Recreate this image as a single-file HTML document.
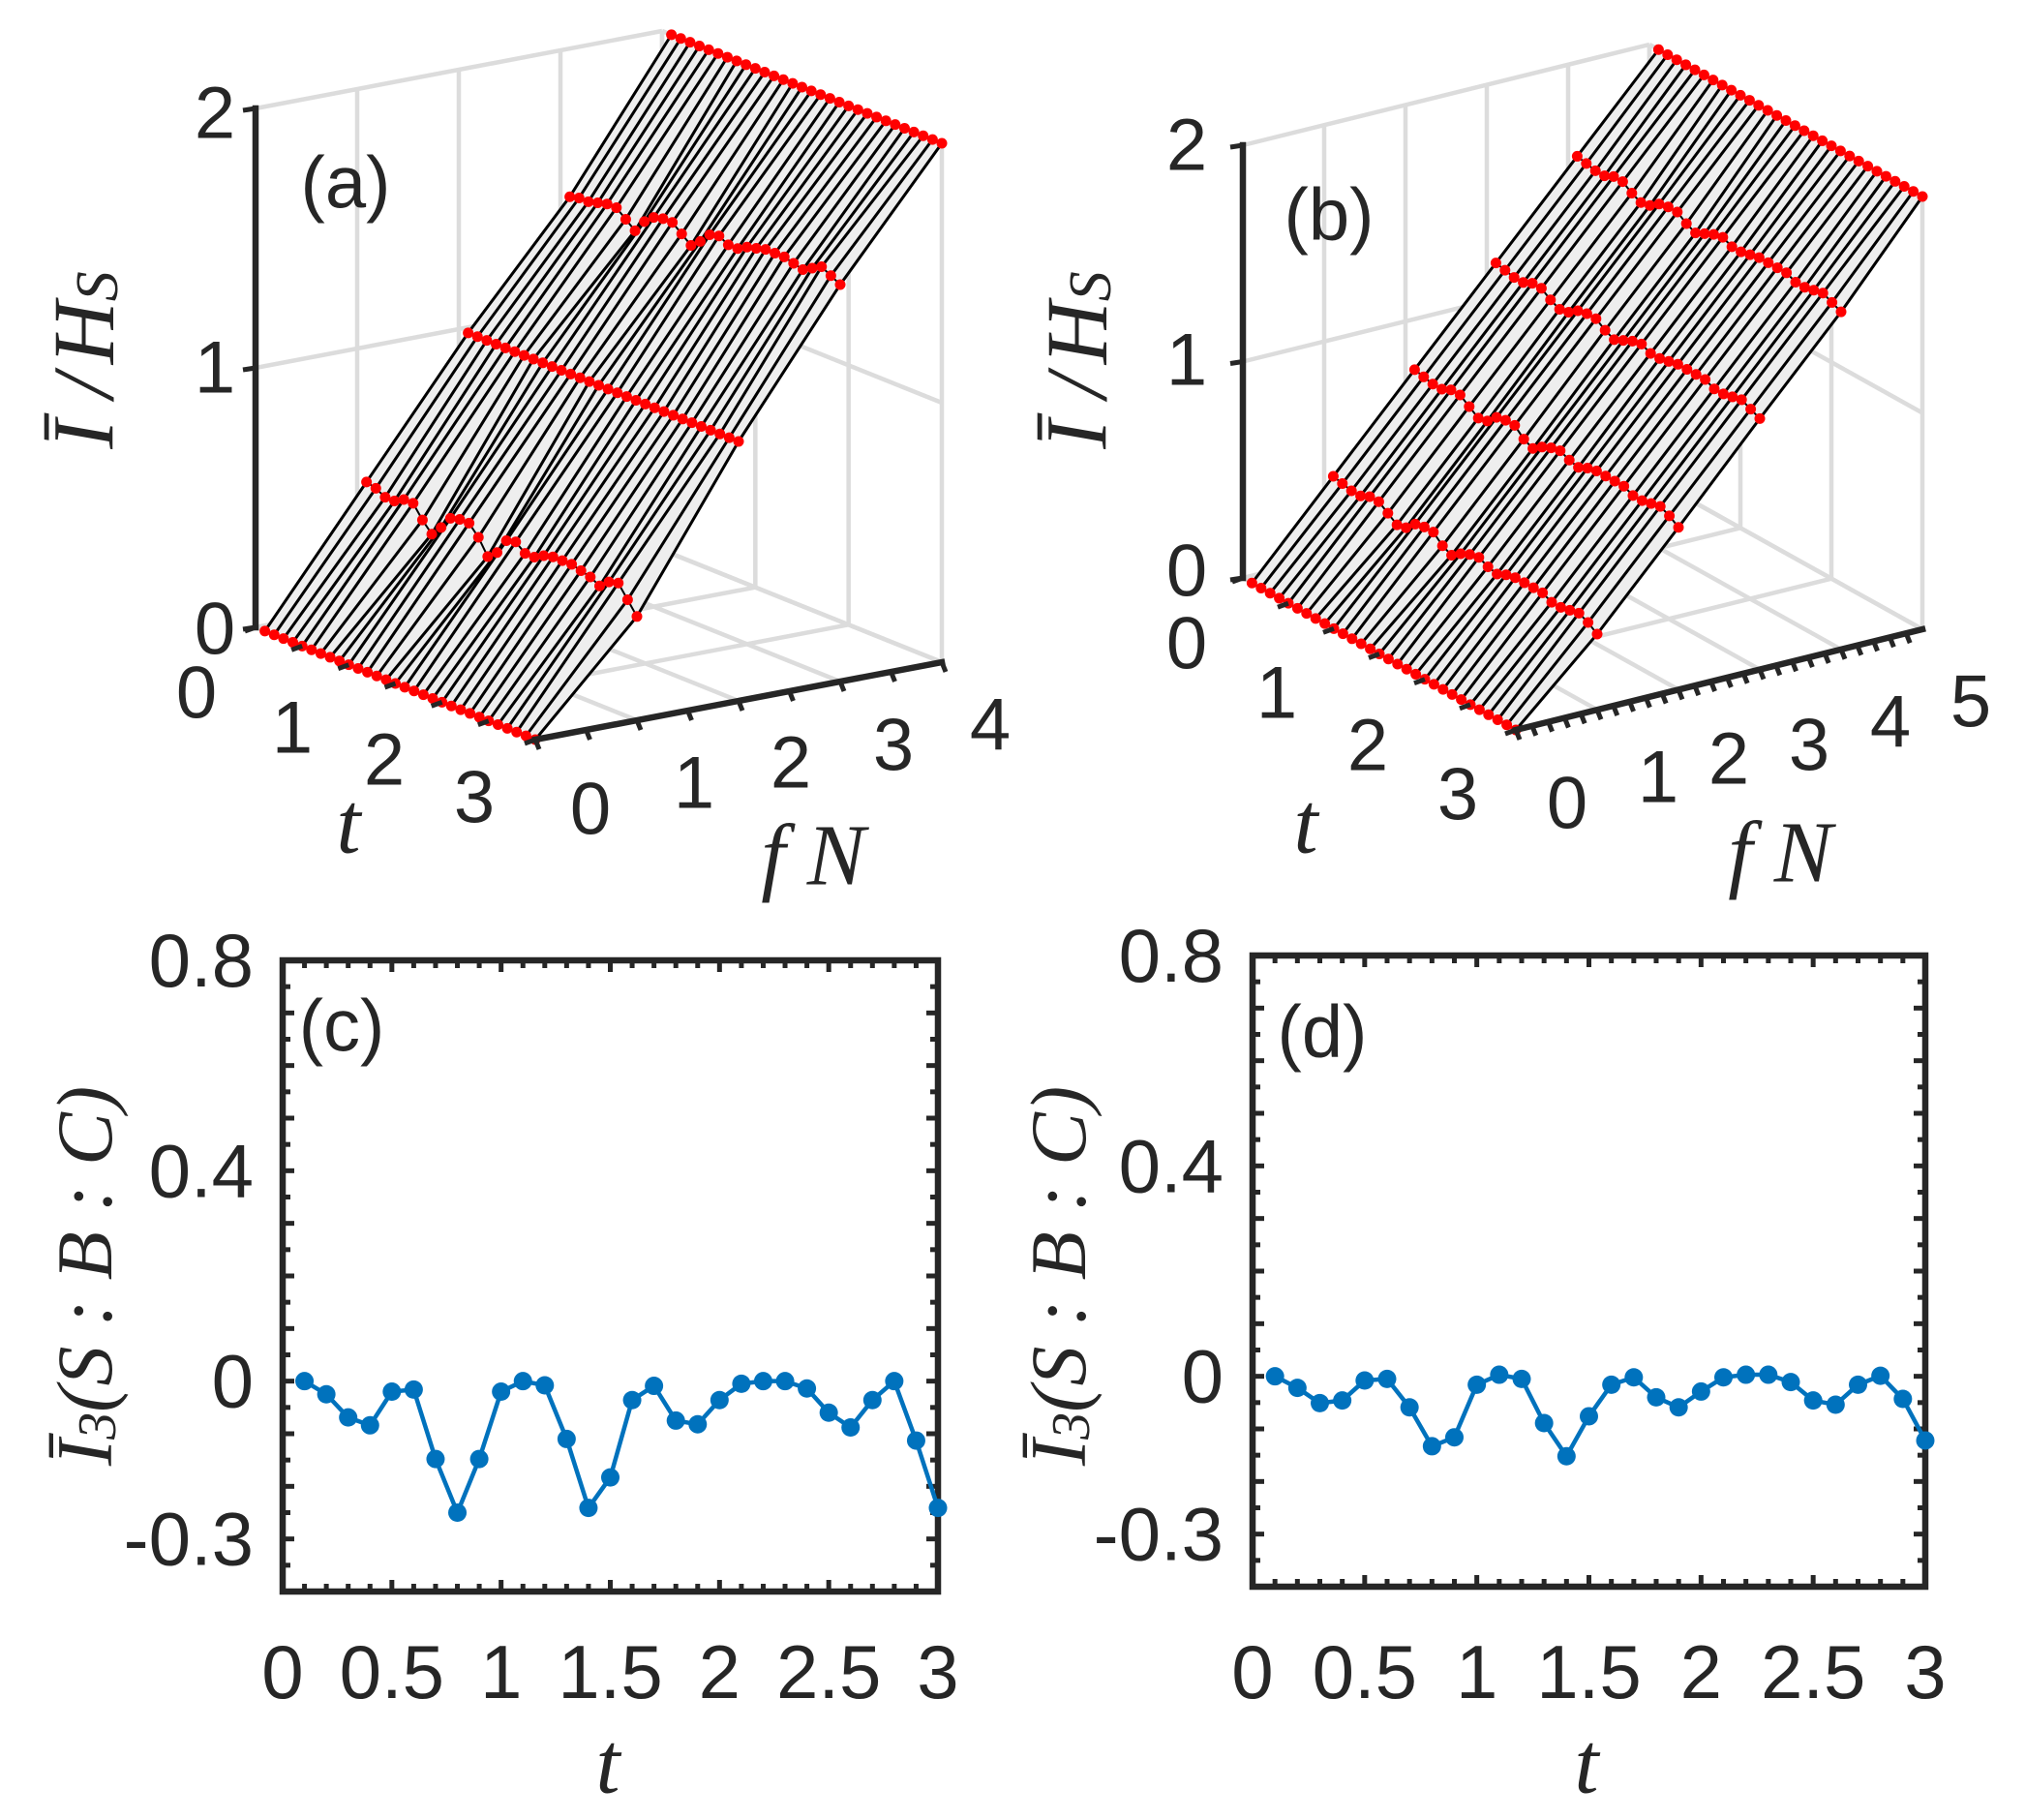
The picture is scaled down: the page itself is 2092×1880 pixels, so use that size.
<!DOCTYPE html>
<html><head><meta charset="utf-8">
<style>
html,body{margin:0;padding:0;background:#fff;}
svg{display:block;}
.tk{font-family:"Liberation Sans",sans-serif;fill:#262626;}
.mt{font-family:"Liberation Serif",serif;font-style:italic;fill:#262626;}
</style></head>
<body>
<svg id="fig" width="2092" height="1880" viewBox="0 0 2092 1880" xmlns="http://www.w3.org/2000/svg">
<g id="pa"></g>
<g id="pb"></g>
<g id="pc"></g>
<g id="pd"></g>
</svg>
<script>
// ---- data ----
const tVals = [0.1,0.2,0.3,0.4,0.5,0.6,0.7,0.8,0.9,1.0,1.1,1.2,1.3,1.4,1.5,1.6,1.7,1.8,1.9,2.0,2.1,2.2,2.3,2.4,2.5,2.6,2.7,2.8,2.9,3.0];
const i3c = [0,-0.025,-0.069,-0.084,-0.02,-0.016,-0.148,-0.25,-0.148,-0.02,0,-0.008,-0.11,-0.241,-0.183,-0.036,-0.009,-0.075,-0.082,-0.036,-0.005,0,0,-0.014,-0.06,-0.088,-0.036,0,-0.113,-0.241];
const i3d = [0,-0.022,-0.051,-0.046,-0.008,-0.005,-0.059,-0.133,-0.116,-0.016,0.003,-0.005,-0.089,-0.152,-0.076,-0.016,-0.002,-0.04,-0.059,-0.029,-0.002,0.003,0.003,-0.011,-0.046,-0.054,-0.016,0.001,-0.043,-0.122];
// panel (a): surface heights at fN = 1 and fN = 3 for each t
const aLev1 = [0.5,0.49,0.47,0.47,0.49,0.49,0.44,0.4,0.44,0.49,0.5,0.5,0.46,0.4,0.43,0.49,0.5,0.47,0.47,0.49,0.5,0.5,0.5,0.49,0.48,0.46,0.49,0.5,0.45,0.4];
const aLev3 = [1.45,1.46,1.46,1.47,1.48,1.48,1.45,1.42,1.47,1.5,1.51,1.51,1.48,1.45,1.48,1.52,1.53,1.51,1.51,1.53,1.54,1.55,1.55,1.55,1.54,1.53,1.55,1.57,1.55,1.53];
// panel (b): surface heights at fN = 1,2,3,4
const bLev1 = [0.4,0.39,0.38,0.38,0.4,0.4,0.37,0.34,0.35,0.39,0.4,0.4,0.36,0.34,0.37,0.39,0.4,0.38,0.37,0.39,0.4,0.4,0.4,0.4,0.38,0.38,0.39,0.4,0.38,0.35];
const bLev2 = [0.8,0.79,0.78,0.78,0.8,0.8,0.77,0.74,0.75,0.79,0.8,0.8,0.76,0.74,0.77,0.79,0.8,0.78,0.77,0.79,0.8,0.8,0.8,0.8,0.78,0.78,0.79,0.8,0.78,0.75];
const bLev3 = [1.2,1.19,1.18,1.18,1.2,1.2,1.17,1.15,1.16,1.19,1.2,1.2,1.17,1.15,1.17,1.19,1.2,1.18,1.18,1.19,1.2,1.2,1.2,1.2,1.18,1.18,1.19,1.2,1.18,1.16];
const bLev4 = [1.6,1.59,1.58,1.58,1.6,1.6,1.57,1.55,1.56,1.59,1.6,1.6,1.57,1.55,1.57,1.59,1.6,1.58,1.58,1.59,1.6,1.6,1.6,1.6,1.58,1.58,1.59,1.6,1.58,1.56];
const zTicks = ["0","1","2"];
const tTicks3d = ["0","1","2","3"];
const fTicksA = ["0","1","2","3","4"];
const fTicksB = ["0","1","2","3","4","5"];
const xTickLabels = ["0","0.5","1","1.5","2","2.5","3"];
const yTickLabels = ["0.8","0.4","0","-0.3"];

const NS = "http://www.w3.org/2000/svg";
function mk(parent, tag, attrs){
  const e = document.createElementNS(NS, tag);
  for (const k in attrs) e.setAttribute(k, attrs[k]);
  parent.appendChild(e);
  return e;
}

// ---- 3D panels ----
function panel3d(g, cfg){
  const P = (t,f,z) => [cfg.A[0] + t/3*cfg.tv[0] + f/cfg.fmax*cfg.fv[0],
                        cfg.A[1] + t/3*cfg.tv[1] + f/cfg.fmax*cfg.fv[1] - z*cfg.zu];
  const grid = mk(g,'g',{stroke:'#dcdcdc','stroke-width':4.5,fill:'none'});
  
  
  const L = (gg,a,b)=>mk(gg,'line',{x1:a[0],y1:a[1],x2:b[0],y2:b[1]});
  for (let f=0; f<=cfg.fmax; f++){ L(grid,P(0,f,0),P(0,f,2)); L(grid,P(0,f,0),P(3,f,0)); }
  for (let t=0; t<=3; t++){ L(grid,P(t,cfg.fmax,0),P(t,cfg.fmax,2)); L(grid,P(t,0,0),P(t,cfg.fmax,0)); }
  for (let z=0; z<=2; z++){ L(grid,P(0,0,z),P(0,cfg.fmax,z)); L(grid,P(0,cfg.fmax,z),P(3,cfg.fmax,z)); }

  const fNodes = cfg.fNodes;
  const zAt = (i,k) => cfg.levels[k] === null ? (k===0?0:2) : cfg.levels[k][i];
  const surf = mk(g,'g',{});
  
  
  for (let i=0;i<tVals.length-1;i++){
    for (let k=0;k<fNodes.length-1;k++){
      const p1=P(tVals[i],fNodes[k],zAt(i,k)), p2=P(tVals[i],fNodes[k+1],zAt(i,k+1));
      const p3=P(tVals[i+1],fNodes[k+1],zAt(i+1,k+1)), p4=P(tVals[i+1],fNodes[k],zAt(i+1,k));
      mk(surf,'polygon',{points:[p1,p2,p3,p4].map(p=>p.join(',')).join(' '),fill:'#eeeeee',stroke:'#eeeeee','stroke-width':1});
    }
  }
  for (let i=0;i<tVals.length;i++){
    const pts = fNodes.map((f,k)=>P(tVals[i],f,zAt(i,k)).join(',')).join(' ');
    const pl = mk(surf,'polyline',{points:pts,fill:'none',stroke:'#000','stroke-width':3});
    
    
  }
  for (let k=0;k<fNodes.length;k++){
    const pts = tVals.map((t,i)=>P(t,fNodes[k],zAt(i,k)).join(',')).join(' ');
    mk(surf,'polyline',{points:pts,fill:'none',stroke:'#000','stroke-width':2});
    for (let i=0;i<tVals.length;i++){
      const p=P(tVals[i],fNodes[k],zAt(i,k));
      const c = mk(surf,'circle',{cx:p[0],cy:p[1],r:5.5,fill:'#ff0000'});
      
      
    }
  }
  const ax = mk(g,'g',{stroke:'#262626','stroke-width':6.5,fill:'none','stroke-linecap':'square'});
  
  
  L(ax,P(0,0,0),P(0,0,2));
  L(ax,P(3,0,0),P(3,cfg.fmax,0));
  const tk = mk(g,'g',{stroke:'#262626','stroke-width':5});
  for (let z=0;z<=2;z++){ const p=P(0,0,z); L(tk,p,[p[0]-13,p[1]+2]); }
  for (let f=0; f<=cfg.fmax; f+=cfg.fminor){ const p=P(3,f,0); L(tk,p,[p[0]+4,p[1]+10]); }
  for (let t=0;t<=3;t+=0.5){ const p=P(t,0,0); L(tk,p,[p[0]-11,p[1]+4]); }
  const lab = (txt,x,y,cls,size,name)=>{ const e=mk(g,'text',{x:x,y:y,'class':cls,'font-size':size,'text-anchor':'middle','dominant-baseline':'central'}); e.textContent=txt;   return e; };
  zTicks.forEach((s,i)=>lab(s,cfg.zLabX,cfg.zLabY[i],'tk',76,'z-tick-label'));
  tTicks3d.forEach((s,i)=>lab(s,cfg.tLab[i][0],cfg.tLab[i][1],'tk',76,'t-tick-label'));
  cfg.fTicks.forEach((s,i)=>lab(s,cfg.fLab[i][0],cfg.fLab[i][1],'tk',76,'fn-tick-label'));
  lab('t',cfg.tTitle[0],cfg.tTitle[1],'mt',90,'t-axis-title');
  const ft = lab('f N',cfg.fTitle[0],cfg.fTitle[1],'mt',90,'fn-axis-title');
  lab(cfg.tag,cfg.tagPos[0],cfg.tagPos[1],'tk',76,'panel-tag');
  const yl = mk(g,'text',{x:0,y:0,'class':'mt','font-size':90,'text-anchor':'middle','dominant-baseline':'central',transform:`translate(${cfg.yl[0]},${cfg.yl[1]}) rotate(-90)`});
  
  
  yl.innerHTML = 'Ī /<tspan dx="10">H</tspan><tspan font-size="62" dy="14">S</tspan>';
}

panel3d(document.getElementById('pa'), {
  A:[264,648], tv:[289,116], fv:[420,-80], zu:268, fmax:4, fminor:0.5,
  fNodes:[0,1,2,3,4], levels:[null,aLev1,tVals.map(()=>1),aLev3,null],
  zLabX:222, zLabY:[650,380,117],
  tLab:[[203,716],[302,752],[397,785],[490,824]],
  fTicks:fTicksA, fLab:[[610,836],[717,809],[817,788],[923,770],[1023,749]],
  tTitle:[360,851], fTitle:[840,884], tag:'(a)', tagPos:[357,189], yl:[87,372]
});
panel3d(document.getElementById('pb'), {
  A:[1284,597], tv:[282,157], fv:[420,-104], zu:223.5, fmax:5, fminor:0.2,
  fNodes:[0,1,2,3,4,5], levels:[null,bLev1,bLev2,bLev3,bLev4,null],
  zLabX:1226, zLabY:[590,372,150],
  tLab:[[1226,665],[1319,716],[1413,770],[1506,821]],
  fTicks:fTicksB, fLab:[[1619,830],[1713,803],[1786,784],[1869,770],[1953,746],[2036,725]],
  tTitle:[1349,851], fTitle:[1839,881], tag:'(b)', tagPos:[1373,222], yl:[1113,372]
});

// ---- 2D panels ----
function panel2d(g, cfg, vals){
  const xS = t => cfg.L + t/3*(cfg.R-cfg.L);
  const yS = v => cfg.B - (v+0.4)/1.2*(cfg.B-cfg.T);
  const tk = mk(g,'g',{stroke:'#262626','stroke-width':5});
  for (let i=0;i<=30;i++){
    const t=i/10, len=(i%5===0)?12:8, x=xS(t);
    mk(tk,'line',{x1:x,y1:cfg.B,x2:x,y2:cfg.B-len});
    mk(tk,'line',{x1:x,y1:cfg.T,x2:x,y2:cfg.T+len});
  }
  for (let i=-8;i<=16;i++){
    const v=i*0.05, y=yS(v), len=(i%2===0)?12:8;
    mk(tk,'line',{x1:cfg.L,y1:y,x2:cfg.L+len,y2:y});
    mk(tk,'line',{x1:cfg.R,y1:y,x2:cfg.R-len,y2:y});
  }
  const box = mk(g,'rect',{x:cfg.L,y:cfg.T,width:cfg.R-cfg.L,height:cfg.B-cfg.T,fill:'none',stroke:'#262626','stroke-width':6.5});
  
  
  const line = mk(g,'polyline',{points:tVals.map((t,i)=>xS(t)+','+yS(vals[i])).join(' '),fill:'none',stroke:'#0072BD','stroke-width':4.5});
  
  
  tVals.forEach((t,i)=>{
    const c = mk(g,'circle',{cx:xS(t),cy:yS(vals[i]),r:9.5,fill:'#0072BD'});
    
    
  });
  xTickLabels.forEach((s,i)=>{
    const e=mk(g,'text',{x:xS(i*0.5),y:cfg.xLabY,'class':'tk','font-size':78,'text-anchor':'middle','dominant-baseline':'central'});
    e.textContent=s;
    
    
  });
  const yv=[0.8,0.4,0,-0.3];
  yTickLabels.forEach((s,i)=>{
    const e=mk(g,'text',{x:cfg.yLabX,y:yS(yv[i]),'class':'tk','font-size':78,'text-anchor':'end','dominant-baseline':'central'});
    e.textContent=s;
    
    
  });
  const xt=mk(g,'text',{x:cfg.tX,y:1822,'class':'mt','font-size':90,'text-anchor':'middle','dominant-baseline':'central'});
  xt.textContent='t';
  
  
  const tag=mk(g,'text',{x:cfg.tag[0],y:cfg.tag[1],'class':'tk','font-size':76,'text-anchor':'middle','dominant-baseline':'central'});
  tag.textContent=cfg.tagTxt;
  
  
  const yl=mk(g,'text',{x:0,y:0,'class':'mt','font-size':82,'text-anchor':'middle','dominant-baseline':'central',transform:`translate(${cfg.ylX},1318) rotate(-90)`});
  
  
  yl.innerHTML='Ī<tspan font-size="56" dy="14">3</tspan><tspan dy="-14">(S : B : C)</tspan>';
}
panel2d(document.getElementById('pc'), {L:292,R:969,T:992,B:1644,xLabY:1727,yLabX:262,tX:628,tag:[353,1060],tagTxt:'(c)',ylX:87}, i3c);
panel2d(document.getElementById('pd'), {L:1294,R:1989,T:987,B:1639,xLabY:1727,yLabX:1264,tX:1639,tag:[1366,1066],tagTxt:'(d)',ylX:1093}, i3d);
</script>
</body></html>
